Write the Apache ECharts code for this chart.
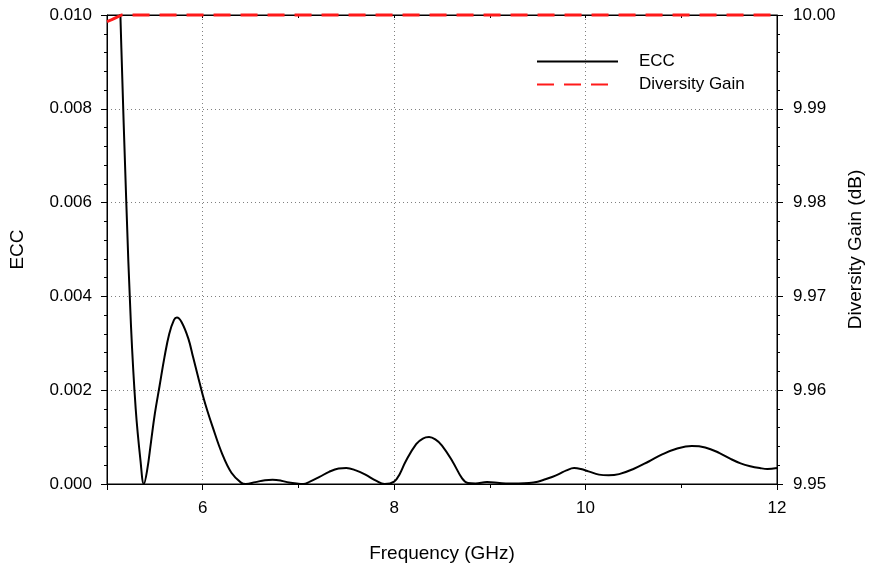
<!DOCTYPE html>
<html>
<head>
<meta charset="utf-8">
<script src="https://cdn.jsdelivr.net/npm/echarts@6/dist/echarts.min.js"></script>
<style>
  html, body { margin: 0; padding: 0; background: #fff; }
  #chart { width: 883px; height: 568px; }
</style>
</head>
<body>
<div id="chart"></div>
<script>
// ECC curve
var eccFreq = [5.0, 5.05, 5.1, 5.15, 5.2, 5.25, 5.3, 5.35, 5.385, 5.42, 5.46, 5.5, 5.55, 5.6, 5.65, 5.7, 5.73, 5.78, 5.85, 5.9,
  5.95, 6.0, 6.05, 6.1, 6.2, 6.3, 6.4, 6.45, 6.55, 6.65, 6.73, 6.82, 6.9, 7.0, 7.05, 7.12, 7.22, 7.32, 7.42, 7.5,
  7.6, 7.7, 7.81, 7.9, 8.0, 8.06, 8.12, 8.23, 8.3, 8.365, 8.43, 8.5, 8.61, 8.71, 8.77, 8.85, 8.97, 9.1, 9.2, 9.3,
  9.41, 9.5, 9.58, 9.65, 9.72, 9.8, 9.88, 9.95, 10.03, 10.14, 10.24, 10.35, 10.5, 10.66, 10.8, 10.95, 11.11, 11.25, 11.4, 11.52,
  11.62, 11.72, 11.82, 11.9, 12.0];
var eccValues = [0.0195, 0.0162, 0.0128, 0.0093, 0.0061, 0.0034, 0.0016, 0.0005, 0.0, 0.0003, 0.0009, 0.0015, 0.0021, 0.0027, 0.0032, 0.0035, 0.00355, 0.00345, 0.0031, 0.0027,
  0.0023, 0.0019, 0.00155, 0.00124, 0.00066, 0.00024, 0.00003, 0.0, 0.00004, 0.00008, 0.00009, 0.00007, 0.00003, 0.000005, 0.0, 0.00005, 0.00015, 0.00026, 0.00033, 0.00034,
  0.00029, 0.0002, 0.00007, 0.0, 0.00005, 0.00022, 0.00048, 0.00085, 0.00097, 0.001, 0.00095, 0.00082, 0.00048, 0.00012, 0.00002, 0.00001, 0.00004, 0.00002, 0.00001, 0.00001,
  0.00002, 0.00005, 0.0001, 0.00015, 0.00021, 0.00029, 0.00034, 0.00032, 0.00027, 0.0002, 0.000185, 0.00021, 0.00032, 0.00048, 0.00063, 0.00075, 0.00081, 0.00078, 0.00066, 0.00053,
  0.00044, 0.00038, 0.00034, 0.00032, 0.00034];

// Diversity gain (dB)
var dgFreq = [5.0, 5.05, 5.1, 5.15, 6.0, 7.0, 8.0, 9.0, 10.0, 11.0, 12.0];
var dgValues = [9.9993, 9.9995, 9.99975, 10.0, 10.0, 10.0, 10.0, 10.0, 10.0, 10.0, 10.0];

var majorFreqTicks = [5, 6, 8, 10, 12];
var freqLabels = [6, 8, 10, 12];
var minorFreqTicks = [7, 9, 11];

function zip(xs, ys) {
  var out = [];
  for (var i = 0; i < xs.length; i++) out.push([xs[i], ys[i]]);
  return out;
}

var font = 'Liberation Sans, Arial, sans-serif';
var black = '#000';
var gridLine = { show: true, lineStyle: { color: '#808080', type: [1, 3], width: 1 } };

var myChart = echarts.init(document.getElementById('chart'), null, { renderer: 'canvas' });

myChart.setOption({
  backgroundColor: '#fff',
  animation: false,
  textStyle: { fontFamily: font, color: black },
  grid: { left: 107, right: 106, top: 15, bottom: 82, show: true, borderColor: black, borderWidth: 1 },
  legend: {
    orient: 'vertical',
    left: 531,
    top: 48,
    itemWidth: 81,
    itemHeight: 14,
    itemGap: 6,
    itemStyle: { opacity: 0 },
    textStyle: { fontSize: 17, color: black, fontFamily: font, padding: [0, 0, 0, 16] },
    data: ['ECC', 'Diversity Gain']
  },
  xAxis: [{
    type: 'value', position: 'bottom', min: 5, max: 12, interval: 1,
    name: 'Frequency (GHz)', nameLocation: 'middle', nameGap: 60,
    nameTextStyle: { fontSize: 19, color: black, fontFamily: font },
    axisLine: { show: true, lineStyle: { color: black, width: 1 } },
    axisTick: { show: true, length: 6, customValues: majorFreqTicks, lineStyle: { color: black } },
    axisLabel: { fontSize: 17, color: black, margin: 16, customValues: freqLabels },
    splitLine: gridLine
  }, {
    type: 'value', position: 'bottom', min: 5, max: 12, interval: 1,
    axisLine: { show: false },
    axisTick: { show: true, length: 4, customValues: minorFreqTicks, lineStyle: { color: black } },
    axisLabel: { show: false },
    splitLine: { show: false }
  }, {
    type: 'value', position: 'top', min: 5, max: 12, interval: 1,
    axisLine: { show: true, lineStyle: { color: black, width: 1 } },
    axisTick: { show: true, inside: true, length: 3, lineStyle: { color: black } },
    axisLabel: { show: false },
    splitLine: { show: false }
  }],
  yAxis: [{
    type: 'value', position: 'left', min: 0, max: 0.01, interval: 0.002,
    name: 'ECC', nameLocation: 'middle', nameGap: 80, nameRotate: 90,
    nameTextStyle: { fontSize: 19, color: black, fontFamily: font },
    axisLine: { show: true, lineStyle: { color: black, width: 1 } },
    axisTick: { show: true, length: 6, lineStyle: { color: black } },
    minorTick: { show: true, splitNumber: 5, length: 3, lineStyle: { color: black } },
    axisLabel: { fontSize: 17, color: black, margin: 15, formatter: function (v) { return v.toFixed(3); } },
    splitLine: gridLine
  }, {
    type: 'value', position: 'right', min: 9.95, max: 10.0, interval: 0.01,
    name: 'Diversity Gain (dB)', nameLocation: 'middle', nameGap: 66, nameRotate: 90,
    nameTextStyle: { fontSize: 19, color: black, fontFamily: font },
    axisLine: { show: true, lineStyle: { color: black, width: 1 } },
    axisTick: { show: true, length: 6, lineStyle: { color: black } },
    minorTick: { show: true, splitNumber: 5, length: 3, lineStyle: { color: black } },
    axisLabel: { fontSize: 17, color: black, margin: 16, formatter: function (v) { return v.toFixed(2); } },
    splitLine: { show: false }
  }],
  series: [{
    name: 'ECC',
    type: 'line',
    xAxisIndex: 0,
    yAxisIndex: 0,
    data: zip(eccFreq, eccValues),
    symbol: 'none',
    smooth: 0.4,
    clip: true,
    lineStyle: { color: black, width: 2 },
    itemStyle: { color: black },
    z: 3
  }, {
    name: 'Diversity Gain',
    type: 'line',
    xAxisIndex: 0,
    yAxisIndex: 1,
    data: zip(dgFreq, dgValues),
    symbol: 'none',
    clip: false,
    lineStyle: { color: '#ff1a1a', width: 3, type: [17, 10] },
    itemStyle: { color: '#ff1a1a' },
    z: 4
  }]
});
</script>
</body>
</html>
